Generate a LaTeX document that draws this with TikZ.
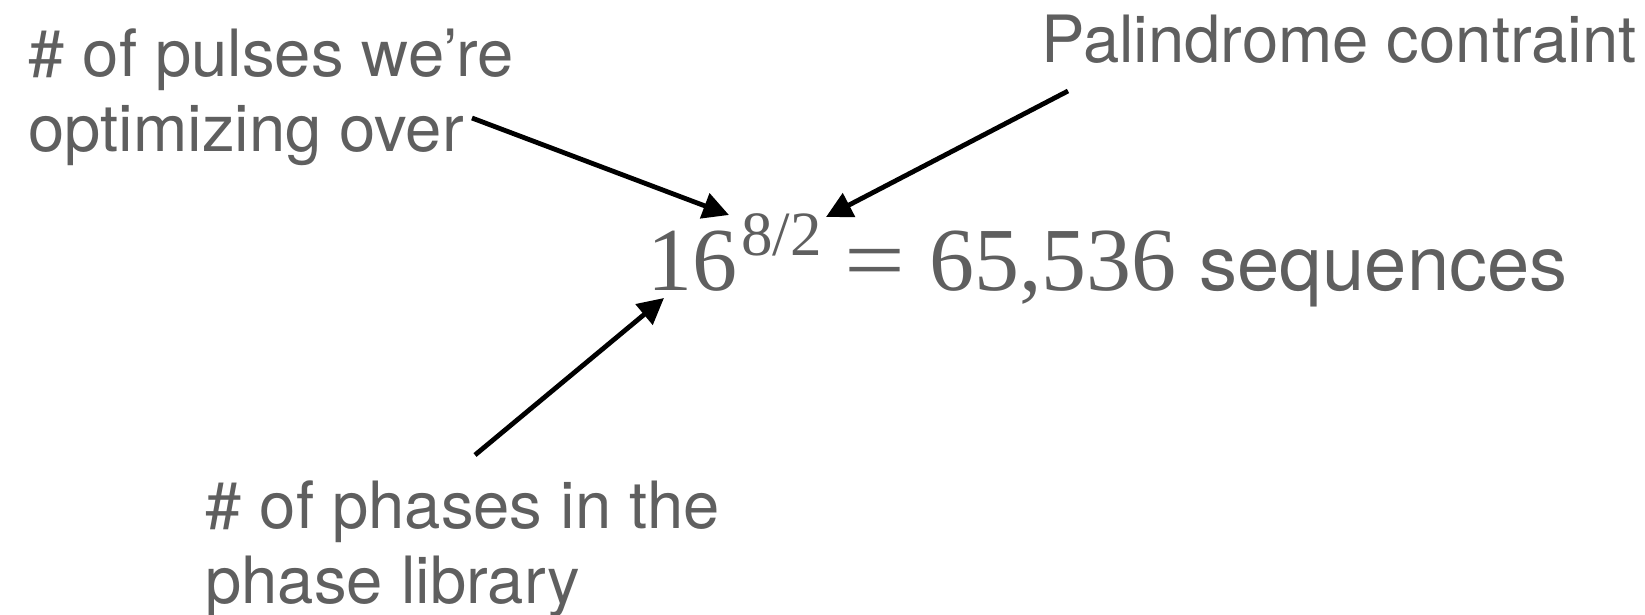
\documentclass[tikz,border=0pt]{standalone}
\usepackage{fontspec}
\setmainfont{TeX Gyre Heros}
\newfontfamily\timesfont{Liberation Serif}
\usetikzlibrary{positioning,arrows.meta,calc}
\definecolor{LabelGray}{RGB}{95,95,95}
\tikzset{
  pointer/.style={-{Triangle[length=13pt,width=13pt]},line width=2.4pt,draw=black},
  note/.style={anchor=base west,inner sep=0pt,align=left,text=LabelGray,
    font=\fontsize{32.6}{37.5}\selectfont},
  mathpart/.style={anchor=base west,inner sep=0pt,text=LabelGray,
    font=\timesfont\fontsize{45}{45}\selectfont},
  exppart/.style={anchor=base west,inner sep=0pt,text=LabelGray,
    font=\timesfont\fontsize{31.5}{31.5}\selectfont}
}

\begin{document}
\begin{tikzpicture}[x=0.5pt,y=-0.5pt]
  \useasboundingbox (0,0) rectangle (1645,615);

  % the count
  \node[mathpart] (base) at (647,290) {16};
  \node[exppart] (expo) at ($(base.base east)+(3,-34)$) {8/2};
  \node[mathpart] (eq) at ($(expo.east |- base.base)+(22,0)$) {\scalebox{1.2}[1]{=}\hspace{12pt}65,536};
  \node[note,base right=11pt of eq,font=\fontsize{38}{38}\selectfont] (seq) {sequences};

  % explanations (placed by the baseline of their last line)
  \node[note] (pulses) at (28,152) {\# of pulses we’re\\optimizing over};
  \node[note] (palin) at (1041,63) {Palindrome contraint};
  \node[note] (phases) at (205,603) {\# of phases in the\\phase library};

  \coordinate (pulsesTail) at (472,118);
  \coordinate (pulsesTip) at (729,215);
  \coordinate (palinTail) at (1068,91);
  \coordinate (palinTip) at (826,217);
  \coordinate (phasesTail) at (475,455);
  \coordinate (phasesTip) at (664,298);
  \draw[pointer] (pulsesTail) -- (pulsesTip);
  \draw[pointer] (palinTail) -- (palinTip);
  \draw[pointer] (phasesTail) -- (phasesTip);
\end{tikzpicture}
\end{document}
